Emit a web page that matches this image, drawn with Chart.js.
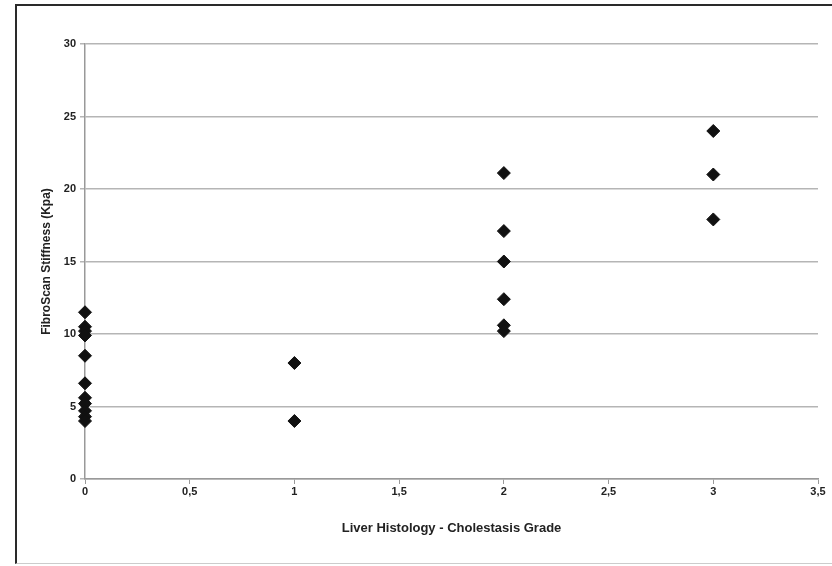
<!DOCTYPE html>
<html>
<head>
<meta charset="utf-8">
<script src="https://cdn.jsdelivr.net/npm/chart.js@4"></script>
<style>
  body { margin: 0; background: #fff; }
  #wrap { position: relative; width: 832px; height: 566px; overflow: hidden; }
  #frame {
    position: absolute; left: 15px; top: 4px; width: 900px; height: 557px;
    border-left: 2px solid #2a2a2a; border-top: 2px solid #2a2a2a;
    border-bottom: 1px solid #ccc; pointer-events: none;
  }
</style>
</head>
<body>
<div id="wrap">
  <canvas id="myChart" width="832" height="566"></canvas>
  <div id="frame"></div>
</div>
<script>
// Cholestasis grade (x) and FibroScan stiffness in kPa (y)
const grade0 = [11.5, 10.5, 10.2, 9.9, 8.5, 6.6, 5.6, 5.2, 4.7, 4.3, 4.0];
const grade1 = [8.0, 4.0];
const grade2 = [21.1, 17.1, 15.0, 12.4, 10.6, 10.2];
const grade3 = [24.0, 21.0, 17.9];
const grades = [0, 1, 2, 3];
const yTicks = [0, 5, 10, 15, 20, 25, 30];

const stiffness = [grade0, grade1, grade2, grade3];
const points = [];
grades.forEach((g, i) => {
  stiffness[i].forEach(v => points.push({ x: g, y: v }));
});

const ctx = document.getElementById('myChart').getContext('2d');
const tickFont = { family: 'Liberation Sans', size: 11, weight: 'bold' };

new Chart(ctx, {
  type: 'scatter',
  data: {
    datasets: [{
      label: 'Stiffness',
      data: points,
      pointStyle: 'rectRot',
      pointRadius: 6.5,
      pointBackgroundColor: '#111',
      pointBorderColor: '#111',
      pointBorderWidth: 1,
      clip: false
    }]
  },
  options: {
    responsive: false,
    animation: false,
    layout: { padding: { top: 44, right: 14, left: 0, bottom: 0 } },
    plugins: { legend: { display: false }, tooltip: { enabled: false } },
    scales: {
      x: {
        type: 'linear',
        min: 0,
        max: 3.5,
        offset: false,
        ticks: {
          stepSize: 0.5,
          color: '#222',
          font: tickFont,
          padding: 1,
          maxRotation: 0,
          callback: v => String(v).replace('.', ',')
        },
        grid: { drawOnChartArea: false, drawTicks: true, tickLength: 5, color: '#999' },
        border: { color: '#999', width: 1.5 },
        title: {
          display: true,
          text: 'Liver Histology - Cholestasis Grade',
          color: '#222',
          font: { family: 'Liberation Sans', size: 13, weight: 'bold' },
          padding: { top: 0, bottom: 30 }
        },
        afterFit: s => { s.height = 87; }
      },
      y: {
        min: 0,
        max: 30,
        afterBuildTicks: s => { s.ticks = yTicks.map(v => ({ value: v })); },
        ticks: { color: '#222', font: tickFont, padding: 4 },
        grid: { color: '#b5b5b5', lineWidth: 1.5, tickLength: 5 },
        border: { color: '#999', width: 1.5 },
        title: {
          display: true,
          text: 'FibroScan Stiffness (Kpa)',
          color: '#222',
          font: { family: 'Liberation Sans', size: 12, weight: 'bold' },
          padding: { top: 39, bottom: 0 }
        },
        afterFit: s => { s.width = 85; }
      }
    }
  }
});
</script>
</body>
</html>
